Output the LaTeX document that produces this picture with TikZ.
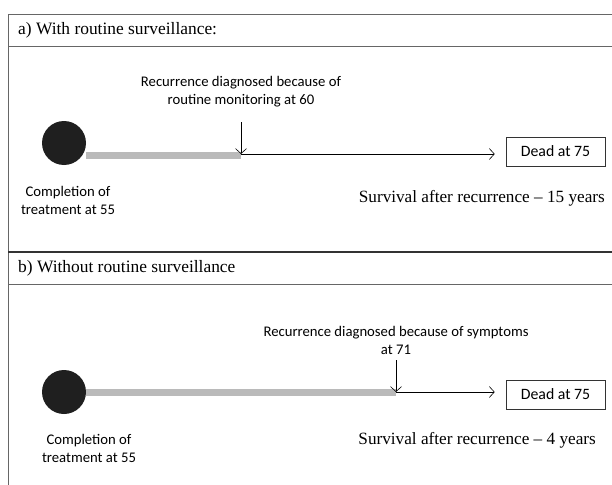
\documentclass[tikz,border=0pt]{standalone}
\usepackage{fontspec}
\setmainfont{Liberation Serif}
\newfontfamily\calibfont{Carlito}
\usetikzlibrary{arrows.meta}
\begin{document}
\begin{tikzpicture}[x=1pt,y=-1pt,
  frame/.style={draw=black!60,line width=0.8pt},
  lbl/.style={font=\calibfont\fontsize{14.7}{18}\selectfont,align=center,inner sep=0pt},
  head/.style={font=\fontsize{17.4}{20}\selectfont,anchor=west,inner sep=0pt},
  surv/.style={font=\fontsize{17.2}{20}\selectfont,anchor=east,inner sep=0pt},
  dot/.style={circle,fill=black!88,minimum size=44pt,inner sep=0pt},
  bar/.style={line width=7pt,draw=black!27},
  arr/.style={-{Straight Barb[length=5pt,width=11pt]},line width=0.6pt},
  deadbox/.style={draw=black!80,line width=0.6pt,minimum width=99pt,minimum height=29pt,inner sep=0pt,font=\calibfont\fontsize{15.8}{18}\selectfont}]
\useasboundingbox (0,0) rectangle (612,484);
\clip (0,0) rectangle (612,484);
% frame
\draw[frame] (8,14) rectangle (640,46);
\draw[frame] (8,46) -- (8,500);
\draw[black!80,line width=1.6pt] (8,252) -- (640,252);
\draw[frame] (8,284) -- (640,284);
% a) with routine surveillance
\node[head] (heada) at (18,30) {a) With routine surveillance:};
\node[dot] (dota) at (64,143) {};
\coordinate (reca) at (241,154);
\coordinate (topa) at (241,122);
\draw[bar] (dota.east |- reca) ++(0,1) -- ++(155,0);
\node[lbl] (txta) at (241,92) {Recurrence diagnosed because of\\routine monitoring at 60};
\node[deadbox] (deada) at (555.5,151.5) {Dead at 75};
\draw[arr] (topa) -- (reca);
\draw[arr,shorten >=11pt] (reca) -- (reca -| deada.west);
\node[lbl] (compa) at (68,200) {Completion of\\treatment at 55};
\node[surv] (surva) at (605,198) {Survival after recurrence -- 15 years};
% b) without routine surveillance
\node[head] (headb) at (18,268) {b) Without routine surveillance};
\node[dot] (dotb) at (64,392) {};
\coordinate (recb) at (396,392);
\coordinate (topb) at (396,360);
\draw[bar] (dotb.east |- recb) -- (recb);
\node[lbl] (txtb) at (396,340) {Recurrence diagnosed because of symptoms\\at 71};
\node[deadbox] (deadb) at (555.5,394.5) {Dead at 75};
\draw[arr] (topb) -- (recb);
\draw[arr,shorten >=11pt] (recb) -- (recb -| deadb.west);
\node[lbl] (compb) at (89,448) {Completion of\\treatment at 55};
\node[surv] (survb) at (596,440) {Survival after recurrence -- 4 years};
\end{tikzpicture}
\end{document}
